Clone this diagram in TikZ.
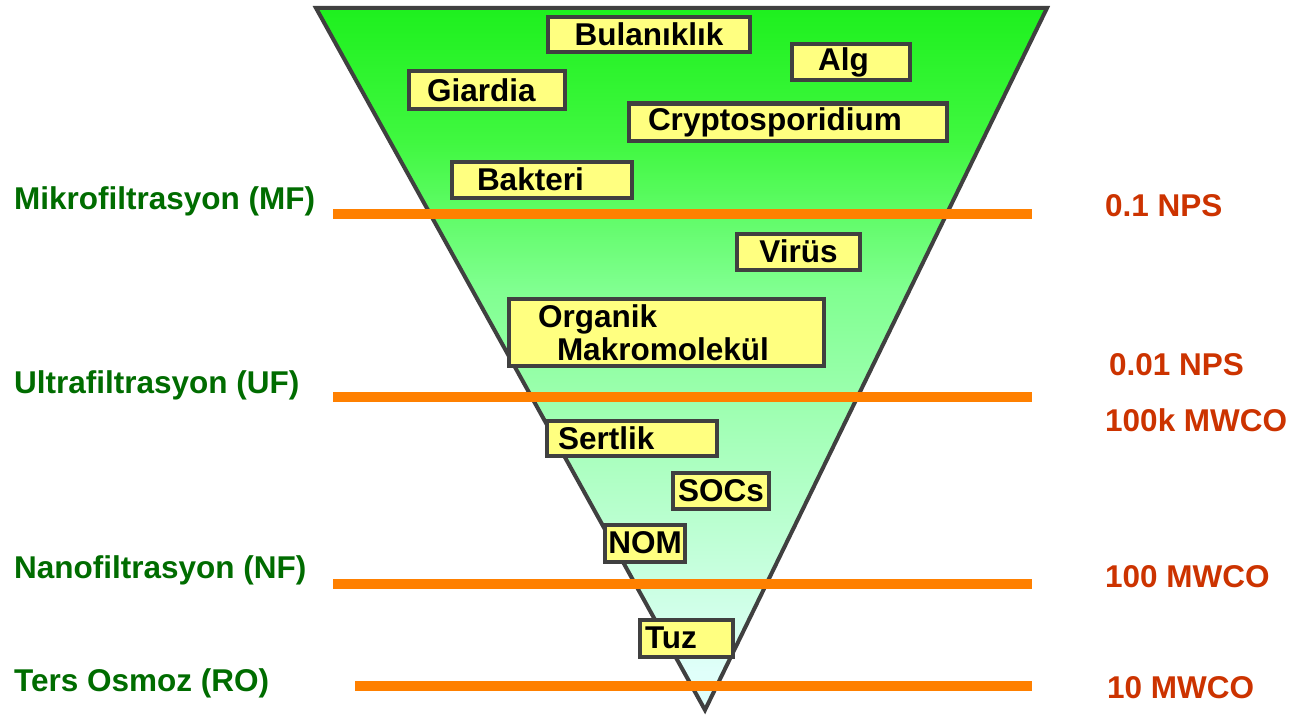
\documentclass[tikz,border=0pt]{standalone}
\usepackage{fontspec}
\setmainfont{Liberation Sans}
\usetikzlibrary{positioning}

\definecolor{funtop}{RGB}{30,240,30}
\definecolor{funup}{RGB}{64,248,64}
\definecolor{funmid}{RGB}{128,255,144}
\definecolor{funbot}{RGB}{224,255,250}
\definecolor{edgegray}{RGB}{64,64,64}
\definecolor{tagyellow}{RGB}{255,255,128}
\definecolor{levelorange}{RGB}{255,128,0}
\definecolor{methgreen}{RGB}{0,108,0}
\definecolor{cutred}{RGB}{204,51,0}

\pgfdeclareverticalshading{funnel}{100bp}{color(0bp)=(funbot); color(27.7bp)=(funbot);
  color(55bp)=(funmid); color(65.5bp)=(funup); color(75bp)=(funtop); color(100bp)=(funtop)}

\begin{document}
\begin{tikzpicture}[x=1pt,y=-1pt,
    txt/.style={font=\fontsize{31.5}{33}\selectfont\bfseries},
    tag/.style={txt, draw=edgegray, fill=tagyellow, line width=4pt, inner ysep=0pt},
    method/.style={txt, text=methgreen, anchor=west, inner sep=0pt},
    cutoff/.style={txt, text=cutred, anchor=west, inner sep=0pt},
    level/.style={levelorange, line width=10pt}]
  \useasboundingbox (0,0) rectangle (1294,717);

  % funnel
  \coordinate (tl) at (316,8);
  \coordinate (tr) at (1047,8);
  \coordinate (tip) at (705,710);
  \shade[shading=funnel, draw=edgegray, line width=4pt] (tl) -- (tr) -- (tip) -- cycle;

  % particles
  \node[tag, minimum width=202pt, minimum height=35pt] (bul) at (649,34.5) {Bulanıklık};
  \node[tag, align=left, text width=66pt, inner xsep=26pt, minimum height=36pt] (alg) at (851,62.5) {Alg};
  \node[tag, align=left, text width=120pt, inner xsep=18pt, minimum height=37pt] (gia) at (487,90) {Giardia};
  \node[tag, align=left, text width=280pt, inner xsep=19pt, minimum height=37pt] (cry) at (788,122) {Cryptosporidium};
  \node[tag, align=left, text width=130pt, inner xsep=25pt, minimum height=36pt] (bak) at (542,179.5) {Bakteri};
  \node[tag, minimum width=123pt, minimum height=36pt] (vir) at (798.5,251.5) {Virüs};
  \node[tag, align=left, text width=257pt, inner xsep=29pt, minimum height=67pt] (org) at (666.5,332.5)
    {Organik\\\hspace*{19pt}Makromolekül};
  \node[tag, align=left, text width=148pt, inner xsep=11pt, minimum height=35pt] (ser) at (632,438) {Sertlik};
  \node[tag, minimum width=96pt, minimum height=36pt] (soc) at (721,490.5) {SOCs};
  \node[tag, minimum width=80pt, minimum height=37pt] (nom) at (645,543) {NOM};
  \node[tag, align=left, text width=83pt, inner xsep=5pt, minimum height=37pt] (tuz) at (686.5,638) {Tuz};

  % cut-off levels
  \draw[level] (333,214) -- (1032,214);
  \draw[level] (333,397) -- (1032,397);
  \draw[level] (333,584) -- (1032,584);
  \draw[level] (355,686) -- (1032,686);

  % processes
  \node[method] (mf) at (14,201) {Mikrofiltrasyon (MF)};
  \node[method] (uf) at (14,385) {Ultrafiltrasyon (UF)};
  \node[method] (nf) at (14,570) {Nanofiltrasyon (NF)};
  \node[method] (ro) at (14,683) {Ters Osmoz (RO)};

  % pore sizes
  \node[cutoff] (nps1) at (1105,206) {0.1 NPS};
  \node[cutoff] (nps2) at (1109,365) {0.01 NPS};
  \node[cutoff] (mwco1) at (1105,420) {100k MWCO};
  \node[cutoff] (mwco2) at (1105,577) {100 MWCO};
  \node[cutoff] (mwco3) at (1107,688) {10 MWCO};
\end{tikzpicture}
\end{document}
